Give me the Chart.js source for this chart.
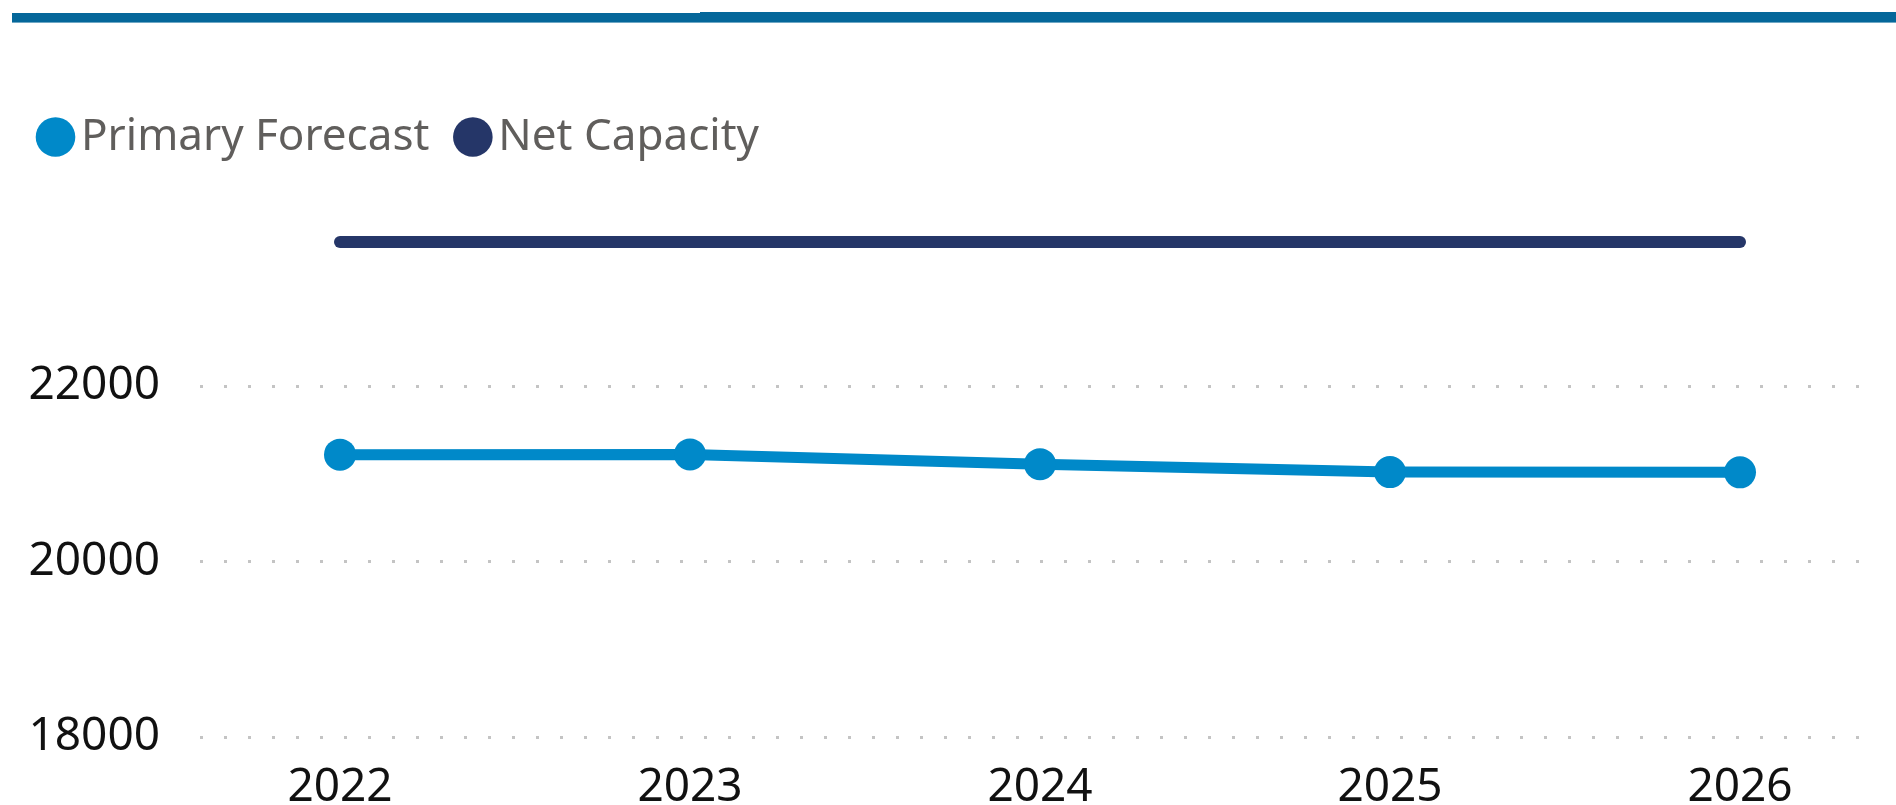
<!DOCTYPE html>
<html>
<head>
<meta charset="utf-8">
<script src="https://cdn.jsdelivr.net/npm/chart.js@4.4.1/dist/chart.umd.min.js"></script>
<style>
  html, body { margin: 0; padding: 0; background: #ffffff; overflow: hidden; }
  body { width: 1896px; height: 805px; position: relative; }
  #barL { position: absolute; left: 12px; top: 13px; width: 688px; height: 9px; background: #05679a; box-shadow: 0 1px 0 #6ea7c4; }
  #barR { position: absolute; left: 700px; top: 12px; width: 1196px; height: 10px; background: #05679a; box-shadow: 0 1px 0 #6ea7c4; }
  #c { position: absolute; left: 0; top: 0; width: 1896px; height: 815px; display: block; }
</style>
</head>
<body>
<div id="barL"></div>
<div id="barR"></div>
<canvas id="c" width="1896" height="815"></canvas>
<script>
const categories = [2022, 2023, 2024, 2025, 2026];
const primaryForecast = [21221, 21224, 21113, 21022, 21019];
const netCapacity = [23648, 23648, 23648, 23648, 23648];
const yTickValues = [18000, 20000, 22000];
const seriesNames = ["Primary Forecast", "Net Capacity"];
const seriesColors = ["#0089c9", "#253668"];

const toPoints = (vals) => categories.map((c, i) => ({ x: c, y: vals[i] }));

const ctx = document.getElementById('c');
new Chart(ctx, {
  type: 'line',
  data: {
    datasets: [
      {
        label: seriesNames[0],
        data: toPoints(primaryForecast),
        borderColor: seriesColors[0],
        backgroundColor: seriesColors[0],
        borderWidth: 11,
        pointRadius: 16,
        pointHoverRadius: 16,
        pointBackgroundColor: seriesColors[0],
        pointBorderWidth: 0,
        tension: 0
      },
      {
        label: seriesNames[1],
        data: toPoints(netCapacity),
        borderColor: seriesColors[1],
        backgroundColor: seriesColors[1],
        borderWidth: 12,
        borderCapStyle: 'round',
        pointRadius: 0,
        pointHoverRadius: 0,
        tension: 0
      }
    ]
  },
  options: {
    responsive: false,
    maintainAspectRatio: false,
    devicePixelRatio: 1,
    animation: false,
    layout: { padding: { left: 12, right: 7, top: 75, bottom: 0 } },
    plugins: {
      tooltip: { enabled: false },
      legend: {
        display: true,
        position: 'top',
        align: 'start',
        labels: {
          usePointStyle: true,
          pointStyle: 'circle',
          boxWidth: 7,
          boxHeight: 28,
          padding: 40,
          color: '#605e5c',
          font: { family: 'Noto Sans', size: 44, lineHeight: 1 },
          generateLabels: (chart) => Chart.defaults.plugins.legend.labels.generateLabels(chart).map(it => Object.assign(it, { lineWidth: 0, strokeStyle: 'rgba(0,0,0,0)' }))
        }
      }
    },
    scales: {
      x: {
        type: 'linear',
        min: 2021.6,
        max: 2026.4,
        afterBuildTicks: (s) => { s.ticks = categories.map(v => ({ value: v })); },
        afterFit: (s) => { s.height = 78; },
        grid: { display: false, drawTicks: false },
        border: { display: false },
        ticks: {
          padding: 23,
          color: '#111111',
          font: { family: 'Noto Sans', size: 46, lineHeight: 1.2 },
          callback: (v) => String(v),
          maxRotation: 0
        }
      },
      y: {
        type: 'linear',
        min: 18000,
        max: 24480,
        afterBuildTicks: (s) => { s.ticks = yTickValues.map(v => ({ value: v })); },
        afterFit: (s) => { s.width = 188; },
        grid: { color: '#c4c4c4', lineWidth: 3, drawTicks: false },
        border: { display: false, dash: [3, 21] },
        ticks: {
          padding: 40,
          color: '#111111',
          font: { family: 'Noto Sans', size: 46, lineHeight: 1.2 },
          callback: (v) => String(v)
        }
      }
    }
  }
});
</script>
</body>
</html>
